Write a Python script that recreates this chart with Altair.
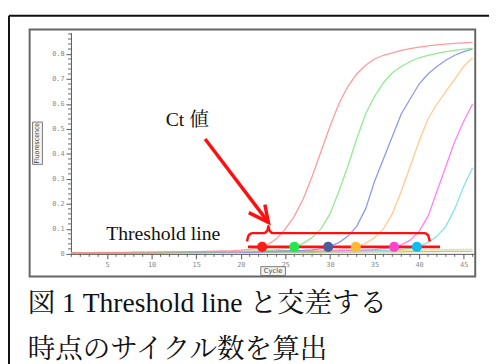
import altair as alt
import pandas as pd

cycles = list(range(1, 47))

red = [0.005,0.005,0.005,0.006,0.006,0.006,0.006,0.007,0.007,0.007,
       0.008,0.008,0.008,0.009,0.009,0.010,0.011,0.012,0.013,0.015,
       0.018,0.022,0.036,0.060,0.100,0.150,0.220,0.310,0.410,0.510,
       0.600,0.670,0.720,0.755,0.780,0.795,0.805,0.815,0.822,0.828,
       0.833,0.837,0.840,0.843,0.845,0.847]
green = [0.004,0.004,0.004,0.005,0.005,0.005,0.005,0.006,0.006,0.006,
         0.006,0.007,0.007,0.007,0.008,0.008,0.008,0.009,0.009,0.010,
         0.011,0.012,0.014,0.017,0.021,0.028,0.042,0.065,0.100,0.160,
         0.250,0.350,0.460,0.560,0.630,0.685,0.725,0.750,0.770,0.785,
         0.795,0.803,0.810,0.815,0.820,0.823]
blue = [0.003,0.003,0.003,0.004,0.004,0.004,0.004,0.005,0.005,0.005,
        0.005,0.006,0.006,0.006,0.006,0.007,0.007,0.007,0.008,0.008,
        0.008,0.009,0.010,0.011,0.012,0.013,0.014,0.016,0.021,0.030,
        0.045,0.070,0.110,0.180,0.290,0.380,0.470,0.560,0.620,0.680,
        0.720,0.750,0.775,0.795,0.810,0.820]
orange = [0.004,0.004,0.004,0.004,0.005,0.005,0.005,0.005,0.006,0.006,
          0.006,0.006,0.007,0.007,0.007,0.008,0.008,0.008,0.009,0.009,
          0.010,0.010,0.011,0.011,0.012,0.013,0.013,0.014,0.015,0.016,
          0.017,0.022,0.029,0.042,0.065,0.100,0.160,0.250,0.350,0.450,
          0.540,0.600,0.650,0.700,0.750,0.785]
magenta = [0.003,0.003,0.003,0.003,0.004,0.004,0.004,0.004,0.005,0.005,
           0.005,0.005,0.006,0.006,0.006,0.006,0.007,0.007,0.007,0.008,
           0.008,0.008,0.009,0.009,0.010,0.010,0.011,0.011,0.012,0.012,
           0.013,0.014,0.015,0.016,0.017,0.021,0.026,0.036,0.055,0.090,
           0.150,0.250,0.350,0.450,0.530,0.600]
cyan = [0.002,0.002,0.002,0.003,0.003,0.003,0.003,0.004,0.004,0.004,
        0.004,0.005,0.005,0.005,0.005,0.006,0.006,0.006,0.007,0.007,
        0.007,0.008,0.008,0.008,0.009,0.009,0.010,0.010,0.011,0.011,
        0.012,0.012,0.013,0.013,0.014,0.014,0.015,0.018,0.022,0.030,
        0.045,0.070,0.110,0.180,0.270,0.345]
yellow = [0.004,0.004,0.004,0.004,0.004,0.005,0.005,0.005,0.005,0.005,
          0.006,0.006,0.006,0.006,0.007,0.007,0.007,0.007,0.008,0.008,
          0.008,0.009,0.009,0.009,0.010,0.010,0.010,0.011,0.011,0.011,
          0.012,0.012,0.012,0.013,0.013,0.013,0.014,0.014,0.015,0.015,
          0.016,0.016,0.017,0.017,0.018,0.018]
olive = [0.002,0.002,0.002,0.002,0.003,0.003,0.003,0.003,0.003,0.003,
         0.004,0.004,0.004,0.004,0.004,0.004,0.005,0.005,0.005,0.005,
         0.005,0.005,0.006,0.006,0.006,0.006,0.006,0.006,0.007,0.007,
         0.007,0.007,0.007,0.008,0.008,0.008,0.008,0.008,0.009,0.009,
         0.009,0.009,0.010,0.010,0.010,0.010]

series_names = ["olive", "yellow", "cyan", "magenta", "orange", "blue", "green", "red"]
series_vals = [olive, yellow, cyan, magenta, orange, blue, green, red]
series_colors = ["#a8b878", "#e6dc6a", "#6ae0e8", "#ff66ff", "#ffc27a", "#7b86f0", "#7ee87e", "#ff8a8a"]

ct_cycles = [22.4, 26.0, 29.8, 32.9, 37.2, 39.75]
ct_colors = ["#ff1a1a", "#22e850", "#4d5c9c", "#ffbb33", "#ff44cc", "#10bbee"]
threshold = 0.028
thr_start, thr_end = 20.8, 42.35

brace_x = [20.7, 20.9, 21.3, 22.6, 23.0, 23.1, 23.2, 23.6, 40.6, 41.0, 41.2]
brace_y = [0.050, 0.075, 0.083, 0.083, 0.095, 0.112, 0.095, 0.083, 0.083, 0.075, 0.050]
arrow_x = [16.0, 23.1]
arrow_y = [0.46, 0.126]
head_x = [20.9, 23.1, 22.7]
head_y = [0.165, 0.126, 0.197]

x_major = [5, 10, 15, 20, 25, 30, 35, 40, 45]
y_major = [0, 0.1, 0.2, 0.3, 0.4, 0.5, 0.6, 0.7, 0.8]
x_minor = [c for c in range(1, 47) if c % 5 != 0]
y_minor = [round(i * 0.02, 2) for i in range(0, 45) if i % 5 != 0]

rows = []
for n, vals in zip(series_names, series_vals):
    for c, v in zip(cycles, vals):
        rows.append({"cycle": c, "value": v, "series": n})
df = pd.DataFrame(rows)

X = alt.Scale(domain=[0.95, 46.3], nice=False, zero=False)
Y = alt.Scale(domain=[0, 0.886], nice=False)

AX = alt.Axis(values=x_major, title=None, grid=False, tickSize=5,
              labelFontSize=7, labelFont="DejaVu Sans Mono", labelColor="#888",
              domainColor="#555", tickColor="#555", labelPadding=2, labelOverlap=False)
AY = alt.Axis(values=y_major, title=None, grid=False, tickSize=5,
              labelFontSize=7, labelFont="DejaVu Sans Mono", labelColor="#888",
              domainColor="#555", tickColor="#555", labelPadding=2, labelOverlap=False,
              labelExpr="datum.value == 0 ? '0' : format(datum.value, '.1f')")


def xq(f):
    return alt.X(f, type="quantitative", scale=X, axis=AX)


def yq(f):
    return alt.Y(f, type="quantitative", scale=Y, axis=AY)


W, H = 411, 225
serif = "'Liberation Serif', 'Noto Serif CJK JP', 'Noto Sans CJK JP', serif"

one = pd.DataFrame({"a": [0]})

outer_left = alt.Chart(one).mark_rule(color="#111", strokeWidth=2).encode(
    x=alt.value(-63), y=alt.value(-17), y2=alt.value(340))
outer_top = alt.Chart(one).mark_rule(color="#111", strokeWidth=2).encode(
    x=alt.value(-63), x2=alt.value(440), y=alt.value(-17))
frame = alt.Chart(one).mark_rect(fill=None, stroke="#666", strokeWidth=2).encode(
    x=alt.value(-42), x2=alt.value(W), y=alt.value(-3), y2=alt.value(248))

lines = alt.Chart(df).mark_line(strokeWidth=1.3, opacity=0.85).encode(
    x=xq("cycle"), y=yq("value"),
    color=alt.Color("series:N", scale=alt.Scale(domain=series_names, range=series_colors), legend=None),
    detail="series:N",
)

xminor = alt.Chart(pd.DataFrame({"c": x_minor})).mark_rule(color="#666", strokeWidth=1).encode(
    x=xq("c"), y=alt.value(H), y2=alt.value(H + 3))
yminor = alt.Chart(pd.DataFrame({"v": y_minor})).mark_rule(color="#666", strokeWidth=1).encode(
    y=yq("v"), x=alt.value(-3), x2=alt.value(0))

thr = alt.Chart(pd.DataFrame({"x1": [thr_start], "x2": [thr_end], "y": [threshold]})).mark_rule(
    color="#ff1010", strokeWidth=3).encode(
    x=xq("x1"), x2="x2:Q", y=yq("y"))

dots = alt.Chart(pd.DataFrame({"c": ct_cycles, "v": [threshold] * 6, "col": ct_colors})).mark_circle(
    size=105, opacity=1).encode(
    x=xq("c"), y=yq("v"),
    fill=alt.Fill("col:N", scale=None), color=alt.value(None))

brace = alt.Chart(pd.DataFrame({"x": brace_x, "y": brace_y, "o": list(range(len(brace_x)))})).mark_line(
    color="#ff1010", strokeWidth=2.5, interpolate="monotone").encode(
    x=xq("x"), y=yq("y"), order="o:Q")

arrow = alt.Chart(pd.DataFrame({"x": arrow_x, "y": arrow_y, "o": [0, 1]})).mark_line(
    color="#ff1010", strokeWidth=3.5).encode(
    x=xq("x"), y=yq("y"), order="o:Q")
head = alt.Chart(pd.DataFrame({"x": head_x, "y": head_y, "o": [0, 1, 2]})).mark_line(
    color="#ff1010", strokeWidth=3.5, strokeJoin="miter").encode(
    x=xq("x"), y=yq("y"), order="o:Q")

ct_label = alt.Chart(pd.DataFrame({"x": [14.0], "y": [0.535], "t": ["Ct 値"]})).mark_text(
    font=serif, fontSize=20, color="#111").encode(
    x=xq("x"), y=yq("y"), text="t:N")
thr_label = alt.Chart(pd.DataFrame({"x": [11.3], "y": [0.079], "t": ["Threshold line"]})).mark_text(
    font=serif, fontSize=20, color="#111").encode(
    x=xq("x"), y=yq("y"), text="t:N")

fl_box = alt.Chart(one).mark_rect(fill="#f4f4f4", stroke="#777", strokeWidth=1).encode(
    x=alt.value(-39), x2=alt.value(-29), y=alt.value(91), y2=alt.value(134))
fl_txt = alt.Chart(pd.DataFrame({"t": ["Fluorescence"]})).mark_text(
    fontSize=7, angle=270, color="#444", font="DejaVu Sans Condensed").encode(
    x=alt.value(-34), y=alt.value(112.5), text="t:N")
cy_box = alt.Chart(one).mark_rect(fill="#f4f4f4", stroke="#777", strokeWidth=1).encode(
    x=alt.value(193), x2=alt.value(218), y=alt.value(238), y2=alt.value(247))
cy_txt = alt.Chart(pd.DataFrame({"t": ["Cycle"]})).mark_text(
    fontSize=7, color="#444", font="DejaVu Sans").encode(
    x=alt.value(205.5), y=alt.value(242.5), text="t:N")

cap1 = alt.Chart(pd.DataFrame({"t": ["図 1 Threshold line と交差する"]})).mark_text(
    font=serif, fontSize=28, align="left", baseline="alphabetic", color="#111").encode(
    x=alt.value(-44), y=alt.value(284), text="t:N")
cap2 = alt.Chart(pd.DataFrame({"t": ["時点のサイクル数を算出"]})).mark_text(
    font=serif, fontSize=28, align="left", baseline="alphabetic", color="#111").encode(
    x=alt.value(-44), y=alt.value(331), text="t:N")

chart = alt.layer(
    outer_left, outer_top, frame, lines, xminor, yminor, thr, dots, brace, arrow, head,
    ct_label, thr_label, fl_box, fl_txt, cy_box, cy_txt, cap1, cap2,
).resolve_scale(color="independent", fill="independent").properties(
    width=W, height=H,
    padding={"left": 64, "top": 22, "right": 14, "bottom": 109},
    autosize=alt.AutoSizeParams(type="none"),
    background="white",
).configure_view(stroke=None)

chart.save("out.html", embed_options={"renderer": "svg", "actions": False})
